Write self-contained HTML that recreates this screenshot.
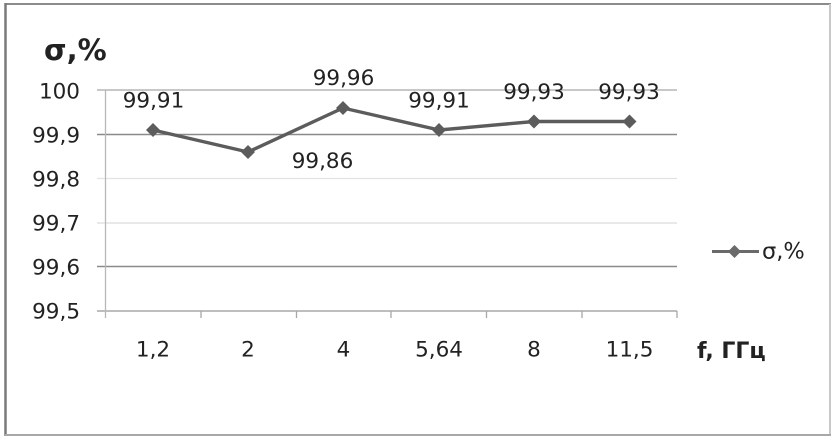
<!DOCTYPE html>
<html><head><meta charset="utf-8"><style>
html,body{margin:0;padding:0;background:#fff;}
svg{display:block;}
text{font-family:"DejaVu Sans","Liberation Sans",sans-serif;fill:#222;}
</style></head><body>
<svg width="836" height="440" viewBox="0 0 836 440" xmlns="http://www.w3.org/2000/svg">
<rect x="0" y="0" width="836" height="440" fill="#fff"/>
<!-- outer frame -->
<line x1="5" y1="4" x2="831" y2="4" stroke="#8c8c8c" stroke-width="2"/>
<line x1="5.5" y1="3" x2="5.5" y2="436" stroke="#7a7a7a" stroke-width="2.5"/>
<line x1="830" y1="4" x2="830" y2="436" stroke="#c8c8c8" stroke-width="2"/>
<line x1="5" y1="435" x2="831" y2="435" stroke="#a8a8a8" stroke-width="2"/>
<!-- gridlines -->
<line x1="97" y1="90" x2="677" y2="90" stroke="#a8a8a8" stroke-width="1.3"/>
<line x1="97" y1="134.5" x2="677" y2="134.5" stroke="#8a8a8a" stroke-width="1.5"/>
<line x1="97" y1="178.5" x2="677" y2="178.5" stroke="#e2e2e2" stroke-width="1.3"/>
<line x1="97" y1="223" x2="677" y2="223" stroke="#dcdcdc" stroke-width="1.3"/>
<line x1="97" y1="266.5" x2="677" y2="266.5" stroke="#8a8a8a" stroke-width="1.5"/>
<line x1="97" y1="311" x2="677" y2="311" stroke="#a8a8a8" stroke-width="1.5"/>
<!-- y axis -->
<line x1="105.5" y1="90" x2="105.5" y2="318" stroke="#b8b8b8" stroke-width="1.3"/>
<!-- x ticks -->
<g stroke="#a8a8a8" stroke-width="1.3">
<line x1="201" y1="311" x2="201" y2="318"/>
<line x1="296.5" y1="311" x2="296.5" y2="318"/>
<line x1="391" y1="311" x2="391" y2="318"/>
<line x1="486.5" y1="311" x2="486.5" y2="318"/>
<line x1="582" y1="311" x2="582" y2="318"/>
<line x1="677" y1="311" x2="677" y2="318"/>
</g>
<!-- y labels -->
<g font-size="21.5" text-anchor="end">
<text x="80" y="98.5">100</text>
<text x="80" y="142.5">99,9</text>
<text x="80" y="186.5">99,8</text>
<text x="80" y="230.5">99,7</text>
<text x="80" y="274.5">99,6</text>
<text x="80" y="318.5">99,5</text>
</g>
<!-- x labels -->
<g font-size="21.5" text-anchor="middle">
<text x="153" y="356.5">1,2</text>
<text x="248" y="356.5">2</text>
<text x="343.5" y="356.5">4</text>
<text x="439" y="356.5">5,64</text>
<text x="534" y="356.5">8</text>
<text x="629.5" y="356.5">11,5</text>
</g>
<!-- titles -->
<text x="44" y="60" font-size="29" font-weight="bold" fill="#111">σ,%</text>
<text x="697" y="358" font-size="22" font-weight="bold" fill="#111">f, ГГц</text>
<!-- series -->
<polyline points="153,130 248,152 343,108 439,130 534,121.5 629.5,121.5" fill="none" stroke="#5c5c5c" stroke-width="3.4" stroke-linejoin="round"/>
<g fill="#5c5c5c">
<polygon points="153,123 160,130 153,137 146,130"/>
<polygon points="248,145 255,152 248,159 241,152"/>
<polygon points="343,101 350,108 343,115 336,108"/>
<polygon points="439,123 446,130 439,137 432,130"/>
<polygon points="534,114.5 541,121.5 534,128.5 527,121.5"/>
<polygon points="629.5,114.5 636.5,121.5 629.5,128.5 622.5,121.5"/>
</g>
<!-- data labels -->
<g font-size="21.5" text-anchor="middle">
<text x="153.5" y="107.5">99,91</text>
<text x="343.5" y="85">99,96</text>
<text x="322.5" y="168">99,86</text>
<text x="439" y="107.5">99,91</text>
<text x="534" y="99">99,93</text>
<text x="629" y="99">99,93</text>
</g>
<!-- legend -->
<line x1="712" y1="251.5" x2="759" y2="251.5" stroke="#6a6a6a" stroke-width="3"/>
<polygon points="734.5,245 741,251.5 734.5,258 728,251.5" fill="#6a6a6a"/>
<text x="762" y="258.5" font-size="22.5">σ,%</text>
</svg>
</body></html>
